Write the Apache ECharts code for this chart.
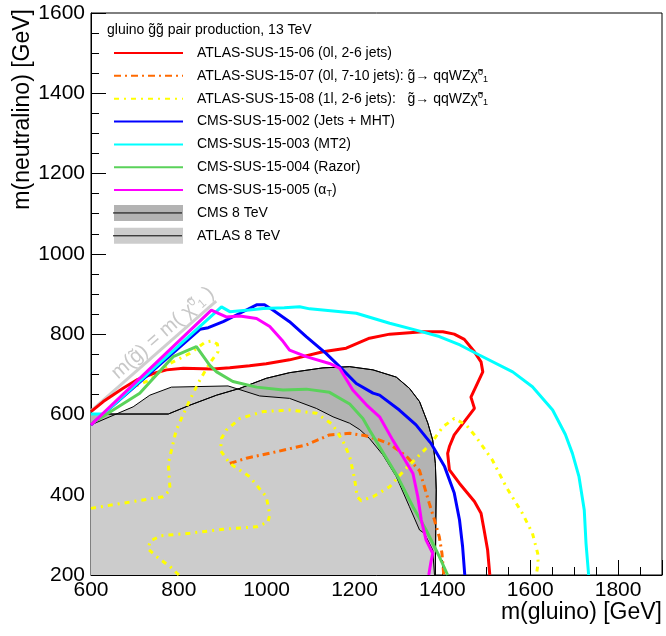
<!DOCTYPE html>
<html><head><meta charset="utf-8">
<script src="https://cdn.jsdelivr.net/npm/echarts@6/dist/echarts.min.js"></script>
<style>html,body{margin:0;padding:0;background:#fff}#c{width:666px;height:636px}</style>
</head><body><div id="c"></div>
<script>
// ---- data: [m(gluino), m(neutralino)] in GeV ----
const atlas1506 = [[600,607],[628,632],[673,665],[704,686],[742,702],[772,711],[810,715],[878,713],[916,716],[961,721],[999,726],[1052,736],[1128,756],[1181,765],[1234,790],[1280,800],[1355,806],[1401,806],[1427,800],[1450,787],[1473,756],[1488,731],[1492,706],[1480,678],[1465,643],[1473,615],[1450,582],[1427,549],[1416,520],[1412,503],[1416,462],[1439,428],[1473,383],[1488,354],[1495,312],[1503,262],[1508,200]];
const atlas1507 = [[916,478],[954,491],[1022,507],[1090,524],[1143,549],[1189,553],[1225,547],[1257,536],[1280,526],[1317,497],[1348,460],[1359,420],[1370,379],[1382,337],[1393,295],[1399,254],[1402,215],[1403,200]];
const atlas1508a = [[600,366],[673,379],[764,395],[780,412],[776,478],[794,561],[825,636],[848,686],[870,727],[889,756],[888,775],[875,783],[860,780],[825,752],[780,727],[734,686],[700,670],[660,635]];
const atlas1508b = [[800,200],[780,221],[749,246],[730,265],[735,285],[760,298],[825,304],[901,314],[977,320],[1003,332],[1007,350],[999,395],[961,445],[916,478],[895,510],[897,540],[908,561],[939,590],[992,607],[1052,611],[1113,603],[1150,575],[1175,530],[1189,495],[1200,440],[1206,395],[1215,385],[1242,395],[1280,420],[1314,462],[1359,511],[1382,540],[1401,569],[1427,590],[1454,574],[1476,545],[1514,486],[1545,420],[1582,354],[1605,304],[1617,254],[1618,230],[1614,200]];
const cms15002 = [[600,574],[848,812],[867,816],[901,831],[939,852],[977,873],[995,873],[1014,860],[1052,831],[1090,794],[1135,752],[1166,719],[1204,677],[1242,653],[1257,648],[1302,611],[1340,574],[1374,528],[1405,470],[1427,404],[1439,337],[1446,271],[1451,200]];
const cms15003 = [[600,601],[628,601],[897,868],[916,856],[960,860],[992,864],[1040,866],[1075,868],[1098,863],[1204,852],[1280,827],[1340,810],[1393,794],[1440,773],[1484,748],[1560,706],[1605,669],[1651,611],[1680,550],[1696,503],[1711,445],[1723,362],[1727,279],[1733,200]];
const cms15004 = [[600,576],[711,653],[787,744],[840,769],[870,723],[886,706],[923,682],[977,668],[1037,661],[1090,663],[1143,655],[1189,626],[1219,590],[1234,561],[1266,503],[1298,445],[1333,370],[1363,312],[1393,246],[1412,200]];
const cms15005 = [[600,574],[874,860],[890,852],[908,843],[939,845],[977,839],[1007,819],[1035,785],[1052,760],[1090,744],[1143,727],[1166,715],[1196,661],[1227,624],[1257,594],[1287,536],[1310,495],[1333,453],[1344,395],[1352,337],[1363,287],[1378,254],[1374,233],[1369,200]];
const cms8 = [[600,601],[776,601],[825,623],[886,648],[939,665],[999,690],[1052,704],[1128,716],[1189,719],[1242,711],[1295,693],[1325,665],[1348,632],[1367,578],[1378,536],[1384,478],[1386,412],[1385,329],[1384,200]];
const atlas8 = [[600,574],[696,619],[734,648],[783,668],[912,671],[984,646],[1052,640],[1113,615],[1151,594],[1189,578],[1212,562],[1234,540],[1264,500],[1295,445],[1325,370],[1348,312],[1359,304],[1378,262],[1382,200]];
const diagonal = [[600,609],[885,882]];

const names = ['ATLAS-SUS-15-06 (0l, 2-6 jets)','ATLAS-SUS-15-07 (0l, 7-10 jets)','ATLAS-SUS-15-08 (1l, 2-6 jets)','CMS-SUS-15-002 (Jets + MHT)','CMS-SUS-15-003 (MT2)','CMS-SUS-15-004 (Razor)','CMS-SUS-15-005 (\u03b1T)','CMS 8 TeV','ATLAS 8 TeV'];
const legendRich = {
  'ATLAS-SUS-15-07 (0l, 7-10 jets)': 'ATLAS-SUS-15-07 (0l, 7-10 jets): g\u0303\u2192 qqWZ\u03c7\u0303{sp|0}{sb|1}',
  'ATLAS-SUS-15-08 (1l, 2-6 jets)': 'ATLAS-SUS-15-08 (1l, 2-6 jets):   g\u0303\u2192 qqWZ\u03c7\u0303{sp|0}{sb|1}',
  'CMS-SUS-15-005 (\u03b1T)': 'CMS-SUS-15-005 (\u03b1{sb|T})'
};
const FONT = 'Liberation Sans, Arial, Helvetica, sans-serif';

const chart = echarts.init(document.getElementById('c'), null, {renderer:'canvas'});
function ln(name, data, color, width, type, extra) {
  return Object.assign({type:'line', name, data, symbol:'none', showSymbol:false, smooth:false,
    lineStyle:{color, width, type: type || 'solid'}, itemStyle:{color}, emphasis:{disabled:true}}, extra || {});
}
const legendItemH = 16, legendGap = 6.85, legendTop = 45;
const series = [
  ln('CMS 8 TeV', cms8, '#000', 1, 'solid', {areaStyle:{color:'#b3b3b3', opacity:1, origin:'start'}}),
  ln('ATLAS 8 TeV', atlas8, '#000', 1, 'solid', {areaStyle:{color:'#cccccc', opacity:1, origin:'start'}}),
  ln('cms8outline', cms8, '#000', 1),
  ln('diag', diagonal, '#cfcfcf', 3),
  ln(names[0], atlas1506, '#ff0000', 3),
  ln(names[1], atlas1507, '#ff6a00', 3, [7,4,2,4]),
  ln(names[2], atlas1508a, '#ffff00', 3, [5,5,2,5]),
  ln(names[2], atlas1508b, '#ffff00', 3, [5,5,2,5]),
  ln(names[3], cms15002, '#0000ff', 3),
  ln(names[4], cms15003, '#00ffff', 3),
  ln(names[5], cms15004, '#5ad25a', 3),
  ln(names[6], cms15005, '#ff00ff', 3)
];
const axisCommon = {
  type:'value', interval:200,
  axisLine:{show:true, lineStyle:{color:'#000', width:1}},
  axisTick:{show:true, inside:true, length:15, lineStyle:{color:'#000', width:1}},
  minorTick:{show:true, splitNumber:4, length:8, lineStyle:{color:'#000', width:1}},
  splitLine:{show:false}, minorSplitLine:{show:false},
  axisLabel:{color:'#000', fontSize:21, fontFamily:FONT, formatter: v => String(v)}
};
const legendLineY = i => legendTop + i*(legendItemH+legendGap) + legendItemH/2;
chart.setOption({
  animation:false,
  backgroundColor:'#fff',
  grid:{left:91, right:4, top:13, bottom:61, show:true, borderColor:'#000', borderWidth:1, backgroundColor:'transparent'},
  xAxis:Object.assign({}, axisCommon, {min:600, max:1900, axisLabel:Object.assign({}, axisCommon.axisLabel, {margin:5, showMaxLabel:false})}),
  yAxis:Object.assign({}, axisCommon, {min:200, max:1600, axisLabel:Object.assign({}, axisCommon.axisLabel, {margin:6})}),
  title:{text:'gluino g\u0303g\u0303 pair production, 13 TeV', left:107, top:23, padding:0,
    textStyle:{fontSize:14, fontWeight:'normal', color:'#000', fontFamily:FONT}},
  legend:{
    orient:'vertical', left:113, top:legendTop, padding:0, itemGap:legendGap,
    itemWidth:69, itemHeight:legendItemH, selectedMode:false,
    itemStyle:{opacity:0},
    data: names.map((n,i)=> i>=7 ? {name:n, icon:'rect', itemStyle:{color: i===7 ? '#b3b3b3' : '#cccccc', borderWidth:0, opacity:1}} : {name:n}),
    formatter: n => legendRich[n] || n,
    textStyle:{fontSize:14, color:'#000', fontFamily:FONT, lineHeight:16, padding:[0,0,0,9],
      rich:{sp:{fontSize:9, verticalAlign:'top', fontFamily:FONT, color:'#000'},
            sb:{fontSize:9, verticalAlign:'bottom', fontFamily:FONT, color:'#000'}}}
  },
  graphic:[
    {type:'line', shape:{x1:113, y1:legendLineY(7), x2:182, y2:legendLineY(7)}, style:{stroke:'#000', lineWidth:1}, z:100},
    {type:'line', shape:{x1:113, y1:legendLineY(8), x2:182, y2:legendLineY(8)}, style:{stroke:'#000', lineWidth:1}, z:100},
    {type:'text', x:662, y:613, style:{text:'m(gluino) [GeV]', font:'23px '+FONT, fill:'#000', textAlign:'right', textVerticalAlign:'middle'}},
    {type:'text', x:23, y:9, rotation:Math.PI/2, style:{text:'m(neutralino) [GeV]', font:'23px '+FONT, fill:'#000', textAlign:'right', textVerticalAlign:'middle'}},
    {type:'text', x:121, y:383, rotation:0.72, z:1,
      style:{text:'m(g\u0303) = m( \u03c7\u0303{sp|0}{sb|1} )', font:'20px '+FONT, fill:'#c8c8c8', textAlign:'left', textVerticalAlign:'bottom',
        rich:{sp:{fontSize:12, verticalAlign:'top', fill:'#c8c8c8'}, sb:{fontSize:12, verticalAlign:'bottom', fill:'#c8c8c8'}}}}
  ],
  series
});
</script></body></html>
